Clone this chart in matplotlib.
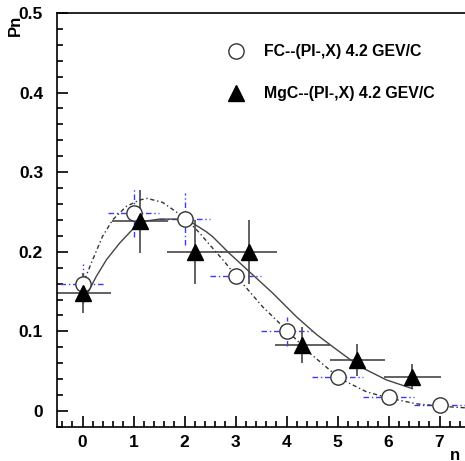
import numpy as np
import matplotlib.pyplot as plt
from matplotlib.ticker import MultipleLocator

plt.rcParams['font.family'] = ['Liberation Sans', 'DejaVu Sans']
plt.rcParams['font.weight'] = 'bold'

# FC--(PI-,X) data
fc_n = [0, 1, 2, 3, 4, 5, 6, 7]
fc_p = [0.16, 0.249, 0.241, 0.17, 0.10, 0.043, 0.018, 0.008]
fc_dx = [0.45, 0.5, 0.5, 0.5, 0.5, 0.5, 0.5, 0.5]
fc_dy = [0.025, 0.03, 0.033, 0.008, 0.018, 0.01, 0.003, 0.003]

# MgC--(PI-,X) data
mg_n = [0.0, 1.12, 2.2, 3.27, 4.31, 5.39, 6.47]
mg_p = [0.148, 0.238, 0.2, 0.2, 0.083, 0.064, 0.043]
mg_dx = [0.55, 0.55, 0.55, 0.55, 0.54, 0.54, 0.55]
mg_dy = [0.025, 0.04, 0.04, 0.04, 0.023, 0.02, 0.016]

# fit curves
fc_fit_x = [0.04, 0.2, 0.39, 0.59, 0.86, 1.12, 1.27, 1.57, 1.84, 2.04, 2.29, 2.49,
            2.75, 3.02, 3.53, 4.06, 4.45, 5.04, 5.57, 6.02, 6.55, 7.0, 7.5]
fc_fit_y = [0.165, 0.19, 0.219, 0.24, 0.257, 0.265, 0.267, 0.262, 0.25, 0.24, 0.224, 0.209,
            0.19, 0.169, 0.131, 0.098, 0.073, 0.041, 0.024, 0.016, 0.009, 0.006, 0.004]
mg_fit_x = [0.1, 0.27, 0.47, 0.73, 0.98, 1.18, 1.51, 1.84, 2.16, 2.43, 2.55, 2.88,
            3.27, 3.73, 4.2, 4.59, 4.9, 5.43, 5.96, 6.47]
mg_fit_y = [0.148, 0.169, 0.19, 0.211, 0.228, 0.238, 0.241, 0.241, 0.236, 0.225, 0.219, 0.198,
            0.175, 0.148, 0.118, 0.096, 0.081, 0.056, 0.039, 0.028]

fig = plt.figure(figsize=(4.65, 4.61), dpi=100)
ax = fig.add_axes([0.1226, 0.074, 0.8774, 0.898])

ax.errorbar(fc_n, fc_p, xerr=fc_dx, yerr=fc_dy, fmt='none', ecolor='#3b3bff',
            elinewidth=1.0, linestyle='none')
for line in ax.containers[-1].lines[2]:
    line.set_linestyle((0, (4, 2, 1, 2)))
ax.errorbar(mg_n, mg_p, xerr=mg_dx, yerr=mg_dy, fmt='none', ecolor='#555555',
            elinewidth=1.3)

ax.plot(fc_fit_x, fc_fit_y, color='#333333', lw=1.0, linestyle=(0, (3, 2, 1, 2)))
ax.plot(mg_fit_x, mg_fit_y, color='#444444', lw=1.0)

ax.plot(fc_n, fc_p, 'o', ms=11, mfc='white', mec='#333333', mew=1.0)
ax.plot(mg_n, mg_p, '^', ms=11, color='black')

# legend
ax.plot([3.0], [0.452], 'o', ms=11, mfc='white', mec='#333333', mew=1.0)
ax.plot([3.0], [0.399], '^', ms=11, color='black')
ax.text(3.55, 0.452, 'FC--(PI-,X) 4.2 GEV/C', fontsize=11.4, va='center', fontweight='bold')
ax.text(3.55, 0.399, 'MgC--(PI-,X) 4.2 GEV/C', fontsize=11.4, va='center', fontweight='bold')

ax.set_xlim(-0.5, 7.5)
ax.set_ylim(-0.02, 0.5)
ax.xaxis.set_major_locator(MultipleLocator(1))
ax.xaxis.set_minor_locator(MultipleLocator(0.2))
ax.yaxis.set_major_locator(MultipleLocator(0.1))
ax.yaxis.set_minor_locator(MultipleLocator(0.02))
ax.set_yticks([0, 0.1, 0.2, 0.3, 0.4, 0.5])
ax.set_yticklabels(['0', '0.1', '0.2', '0.3', '0.4', '0.5'])
ax.tick_params(which='both', direction='in', labelsize=12.5, width=1.2)
ax.tick_params(which='major', length=8)
ax.tick_params(which='minor', length=4)
ax.tick_params(axis='x', pad=6)
ax.tick_params(axis='y', pad=10)
ax.spines['right'].set_visible(False)
for s in ['left', 'top', 'bottom']:
    ax.spines[s].set_linewidth(1.2)

fig.text(15 / 465, 1 - 25 / 461, 'Pn', rotation=90, fontsize=12, fontweight='bold',
         ha='center', va='center')
fig.text(455 / 465, 1 - 455 / 461, 'n', fontsize=12, fontweight='bold',
         ha='center', va='center')

fig.savefig('out.png', dpi=100)
